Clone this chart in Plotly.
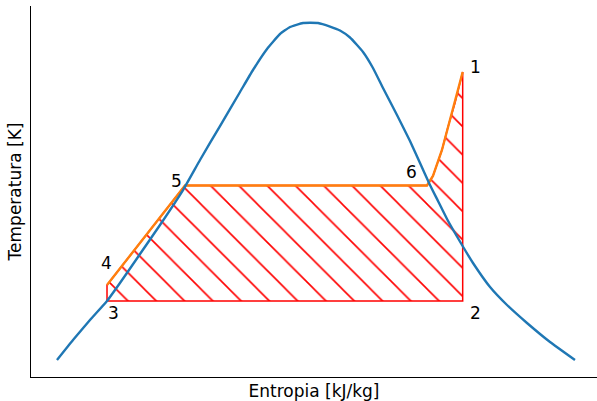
import plotly.graph_objects as go

# Saturation dome (entropy, temperature) in arbitrary chart units
dome_s = [0.459, 0.742, 1.042, 1.343, 1.572, 1.926, 2.279, 2.686, 2.986, 3.339, 3.693,
          3.922, 4.170, 4.399, 4.576, 4.806, 5.071, 5.283, 5.459, 5.636, 5.866, 6.042,
          6.219, 6.466, 6.696, 6.873, 7.049, 7.191, 7.350, 7.615, 7.809, 8.110, 8.410,
          8.763, 9.170, 9.611]
dome_T = [0.458, 0.997, 1.536, 2.049, 2.534, 3.315, 4.097, 5.040, 5.849, 6.765, 7.682,
          8.275, 8.841, 9.245, 9.434, 9.542, 9.542, 9.447, 9.340, 9.151, 8.760, 8.329,
          7.790, 7.062, 6.361, 5.768, 5.175, 4.744, 4.259, 3.558, 3.073, 2.426, 1.941,
          1.456, 0.943, 0.458]

# Cycle path 4 -> 5 -> 6 -> 1 (orange)
cycle_s = [1.343, 2.721, 6.996, 7.102, 7.261, 7.367, 7.491, 7.627]
cycle_T = [2.480, 5.162, 5.162, 5.418, 6.119, 6.739, 7.385, 8.221]

# Points 3 and 2 closing the hatched area
p3 = (1.343, 2.049)
p2 = (7.627, 2.049)

# Point labels
label_text = ["1", "2", "3", "4", "5", "6"]
label_s = [7.862, 7.862, 1.449, 1.337, 2.574, 6.726]
label_T = [8.356, 1.725, 1.725, 3.073, 5.291, 5.534]

FONT = "DejaVu Sans"
FS = 17

fig = go.Figure()

area_s = [p3[0]] + cycle_s + [p2[0], p3[0]]
area_T = [p3[1]] + cycle_T + [p2[1], p3[1]]
fig.add_trace(go.Scatter(
    x=area_s, y=area_T, mode="lines", fill="toself",
    fillcolor="rgba(0,0,0,0)",
    fillpattern=dict(shape="\\", size=20, solidity=0.08, fgcolor="red",
                     fgopacity=1, bgcolor="rgba(0,0,0,0)"),
    line=dict(color="red", width=1.5), hoverinfo="skip", showlegend=False))

fig.add_trace(go.Scatter(x=cycle_s, y=cycle_T, mode="lines",
                         line=dict(color="#ff7f0e", width=2.4), showlegend=False))

fig.add_trace(go.Scatter(x=dome_s, y=dome_T, mode="lines",
                         line=dict(color="#1f77b4", width=2.4, shape="spline",
                                   smoothing=0.4),
                         showlegend=False))

for t, s, T in zip(label_text, label_s, label_T):
    fig.add_annotation(x=s, y=T, xref="x", yref="y", text=t, showarrow=False,
                       font=dict(family=FONT, size=FS, color="black"))

axis_common = dict(range=[0, 10], showline=True, linecolor="black", linewidth=1,
                   showticklabels=False, ticks="", showgrid=False, zeroline=False,
                   mirror=False, fixedrange=True)

fig.update_layout(
    width=597, height=401,
    margin=dict(l=31, r=0, t=6, b=24),
    paper_bgcolor="white", plot_bgcolor="white",
    font=dict(family=FONT, size=FS, color="black"),
    xaxis=dict(title=dict(text="Entropia [kJ/kg]", standoff=8,
                          font=dict(family=FONT, size=FS, color="black")),
               **axis_common),
    yaxis=dict(title=dict(text="Temperatura [K]", standoff=4,
                          font=dict(family=FONT, size=FS, color="black")),
               **axis_common),
)

fig.write_html("out.html")
